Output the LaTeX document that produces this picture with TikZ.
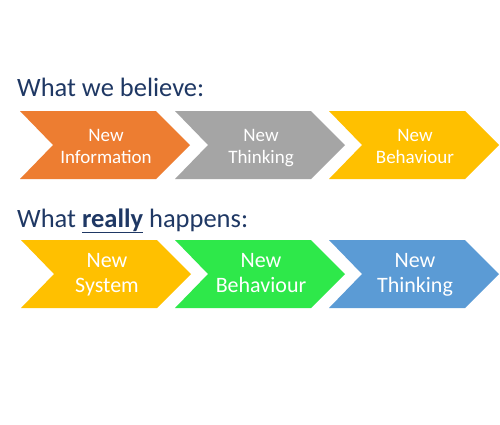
\documentclass[tikz,border=0pt]{standalone}
\usepackage{fontspec}
\setmainfont{Carlito}
\definecolor{titleblue}{HTML}{1F3864}
\definecolor{corange}{HTML}{ED7D31}
\definecolor{cgray}{HTML}{A5A5A5}
\definecolor{cgold}{HTML}{FFC000}
\definecolor{cgreen}{HTML}{2EE84A}
\definecolor{cblue}{HTML}{5B9BD5}
\tikzset{
  chevtext/.style={text=white, align=center, inner sep=0pt},
  rowone/.style={font=\fontsize{19}{22}\selectfont},
  rowtwo/.style={font=\fontsize{22}{24.5}\selectfont},
  titletext/.style={text=titleblue, anchor=base west, inner sep=0pt, font=\fontsize{26.5}{30}\selectfont}
}
\newcommand{\chevron}[3]{%
  % #1 left x, #2 top y, #3 colour
  \fill[#3] (#1,#2) -- ++(136,0) -- ++(34,34) -- ++(-34,34) -- ++(-136,0) -- ++(33,-34) -- cycle;
}
\newcommand{\dph}{\vphantom{gy}}
\begin{document}
\begin{tikzpicture}[x=1pt,y=-1pt]
\useasboundingbox (0,0) rectangle (500,424);
\fill[white] (0,0) rectangle (500,424);
\node[titletext] (t1) at (17,96) {What we believe:};
\chevron{20}{111}{corange}
\chevron{175}{111}{cgray}
\chevron{329}{111}{cgold}
\node[chevtext,rowone] (a1) at (106,148) {New\\Information\dph};
\node[chevtext,rowone] (a2) at (261,148) {New\\Thinking\dph};
\node[chevtext,rowone] (a3) at (415,148) {New\\Behaviour\dph};
\node[titletext] (t2) at (17,227) {What \underline{\textbf{really}} happens:};
\chevron{21}{240}{cgold}
\chevron{175}{240}{cgreen}
\chevron{329}{240}{cblue}
\node[chevtext,rowtwo] (b1) at (107,275) {New\\System\dph};
\node[chevtext,rowtwo] (b2) at (261,275) {New\\Behaviour\dph};
\node[chevtext,rowtwo] (b3) at (415,275) {New\\Thinking\dph};
\end{tikzpicture}
\end{document}
